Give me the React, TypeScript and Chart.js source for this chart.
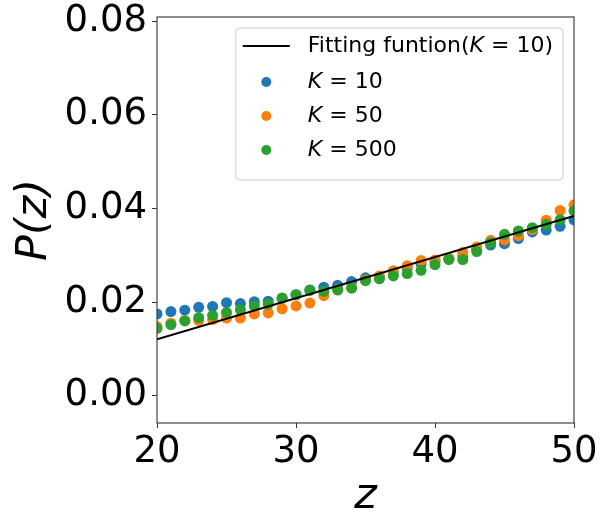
import React, { useEffect, useRef } from 'react';
import { Chart, registerables } from 'chart.js';

Chart.register(...registerables);

const zValues = [20, 21, 22, 23, 24, 25, 26, 27, 28, 29, 30, 31, 32, 33, 34, 35, 36, 37, 38, 39, 40, 41, 42, 43, 44, 45, 46, 47, 48, 49, 50];
const pK10 = [0.0175, 0.0180, 0.0183, 0.0189, 0.0191, 0.0199, 0.0197, 0.0201, 0.0202, 0.0208, 0.0216, 0.0226, 0.0232, 0.0236, 0.0244, 0.0252, 0.0253, 0.0263, 0.0273, 0.0282, 0.0287, 0.0293, 0.0299, 0.0312, 0.0322, 0.0325, 0.0336, 0.0350, 0.0354, 0.0362, 0.0376];
const pK50 = [0.0148, 0.0155, 0.0161, 0.0161, 0.0163, 0.0166, 0.0166, 0.0175, 0.0177, 0.0186, 0.0192, 0.0198, 0.0214, 0.0227, 0.0231, 0.0248, 0.0256, 0.0267, 0.0278, 0.0289, 0.0290, 0.0294, 0.0306, 0.0318, 0.0332, 0.0333, 0.0342, 0.0355, 0.0375, 0.0396, 0.0408];
const pK500 = [0.0144, 0.0152, 0.0160, 0.0167, 0.0172, 0.0178, 0.0184, 0.0192, 0.0196, 0.0209, 0.0216, 0.0225, 0.0223, 0.0226, 0.0230, 0.0246, 0.0250, 0.0256, 0.0261, 0.0268, 0.0280, 0.0291, 0.0291, 0.0308, 0.0327, 0.0345, 0.0352, 0.0359, 0.0366, 0.0376, 0.0395];
const fitZ = [20, 50];
const fitP = [0.0121, 0.0384];
const xTicks = [20, 30, 40, 50];
const yTicks = [0, 0.02, 0.04, 0.06, 0.08];

const FONT = "'DejaVu Sans', sans-serif";
const BLUE = '#1f77b4';
const ORANGE = '#ff7f0e';
const GREEN = '#2ca02c';

const framePlugin = {
  id: 'frame',
  afterDraw(chart: any) {
    const { ctx, chartArea } = chart;
    ctx.save();
    ctx.strokeStyle = '#333333';
    ctx.lineWidth = 1.1;
    ctx.strokeRect(chartArea.left, chartArea.top, chartArea.right - chartArea.left, chartArea.bottom - chartArea.top);
    ctx.restore();
  },
};

const legendPlugin = {
  id: 'mplLegend',
  afterDraw(chart: any) {
    const { ctx, chartArea } = chart;
    const ds = chart.data.datasets;
    const fs = 22;
    const normal = `${fs}px ${FONT}`;
    const italic = `italic ${fs}px ${FONT}`;
    const parts = (label: string) => {
      const i = label.indexOf('K');
      return [
        { t: label.slice(0, i), f: normal },
        { t: 'K', f: italic },
        { t: label.slice(i + 1), f: normal },
      ];
    };
    ctx.save();
    let maxW = 0;
    const rows = ds.map((d: any) => {
      const p = parts(d.label);
      let w = 0;
      p.forEach((s) => {
        ctx.font = s.f;
        w += ctx.measureText(s.t).width;
      });
      maxW = Math.max(maxW, w);
      return p;
    });
    const padL = 7, handle = 47, gap = 18, padR = 10;
    const boxW = padL + handle + gap + maxW + padR;
    const rowH = 34;
    const boxH = 11 + rowH * rows.length + 5;
    const right = chartArea.right - 11;
    const top = chartArea.top + 11;
    const left = right - boxW;
    ctx.beginPath();
    if ((ctx as any).roundRect) (ctx as any).roundRect(left, top, boxW, boxH, 4);
    else ctx.rect(left, top, boxW, boxH);
    ctx.fillStyle = 'rgba(255,255,255,0.8)';
    ctx.fill();
    ctx.strokeStyle = '#cccccc';
    ctx.lineWidth = 1;
    ctx.stroke();
    rows.forEach((p: any[], i: number) => {
      const cy = top + 18 + i * rowH + (i > 0 ? 2 : 0);
      const d = ds[i];
      const hx = left + padL;
      if (d.showLine) {
        ctx.beginPath();
        ctx.moveTo(hx, cy);
        ctx.lineTo(hx + handle, cy);
        ctx.strokeStyle = d.borderColor;
        ctx.lineWidth = 2;
        ctx.stroke();
      } else {
        ctx.beginPath();
        ctx.arc(hx + handle / 2, cy, 5, 0, Math.PI * 2);
        ctx.fillStyle = d.backgroundColor;
        ctx.fill();
      }
      let x = hx + handle + gap;
      ctx.fillStyle = '#000';
      ctx.textBaseline = 'middle';
      ctx.textAlign = 'left';
      p.forEach((s) => {
        ctx.font = s.f;
        ctx.fillText(s.t, x, cy);
        x += ctx.measureText(s.t).width;
      });
    });
    ctx.restore();
  },
};

export default function App() {
  const ref = useRef<HTMLCanvasElement | null>(null);
  useEffect(() => {
    document.body.style.margin = '0';
    const canvas = ref.current;
    if (!canvas) return;
    const pts = (ys: number[]) => zValues.map((z, i) => ({ x: z, y: ys[i] }));
    const chart = new Chart(canvas, {
      type: 'scatter',
      data: {
        datasets: [
          {
            label: 'Fitting funtion(K = 10)',
            data: fitZ.map((z, i) => ({ x: z, y: fitP[i] })),
            showLine: true,
            borderColor: '#000000',
            backgroundColor: '#000000',
            borderWidth: 2,
            pointRadius: 0,
            order: 0,
          },
          { label: 'K = 10', data: pts(pK10), backgroundColor: BLUE, borderColor: BLUE, pointRadius: 5.5, borderWidth: 0, order: 3 },
          { label: 'K = 50', data: pts(pK50), backgroundColor: ORANGE, borderColor: ORANGE, pointRadius: 5.5, borderWidth: 0, order: 2 },
          { label: 'K = 500', data: pts(pK500), backgroundColor: GREEN, borderColor: GREEN, pointRadius: 5.5, borderWidth: 0, order: 1 },
        ] as any,
      },
      options: {
        animation: false,
        responsive: false,
        events: [],
        layout: { padding: { top: 17, right: 26, bottom: 0, left: 0 } },
        plugins: { legend: { display: false }, tooltip: { enabled: false } },
        scales: {
          x: {
            type: 'linear',
            min: 20,
            max: 50,
            border: { display: false },
            grid: { display: true, drawOnChartArea: false, drawTicks: true, tickLength: 5, color: '#333333', lineWidth: 1 },
            ticks: { color: '#000', font: { family: FONT, size: 37 }, padding: 2, maxRotation: 0 },
            afterBuildTicks: (s: any) => { s.ticks = xTicks.map((v) => ({ value: v })); },
            afterFit: (s: any) => { s.height = 92; s.paddingLeft = 0; s.paddingRight = 0; },
            title: { display: true, text: 'z', color: '#000', font: { family: FONT, size: 43, style: 'italic', lineHeight: 1 }, padding: { top: 0, bottom: -3 } },
          },
          y: {
            type: 'linear',
            min: -0.0058,
            max: 0.0809,
            border: { display: false },
            grid: { display: true, drawOnChartArea: false, drawTicks: true, tickLength: 5, color: '#333333', lineWidth: 1 },
            ticks: { color: '#000', font: { family: FONT, size: 37 }, padding: 5, callback: (v: any) => Number(v).toFixed(2) },
            afterBuildTicks: (s: any) => { s.ticks = yTicks.map((v) => ({ value: v })); },
            afterFit: (s: any) => { s.width = 157; s.paddingTop = 0; s.paddingBottom = 0; },
            title: { display: true, text: 'P(z)', color: '#000', font: { family: FONT, size: 43, style: 'italic', lineHeight: 1 }, padding: { top: 13, bottom: 0 } },
          },
        },
      } as any,
      plugins: [framePlugin, legendPlugin],
    });
    return () => chart.destroy();
  }, []);
  return (
    <div style={{ width: 600, height: 515 }}>
      <canvas ref={ref} width={600} height={515} style={{ display: 'block' }} />
    </div>
  );
}
